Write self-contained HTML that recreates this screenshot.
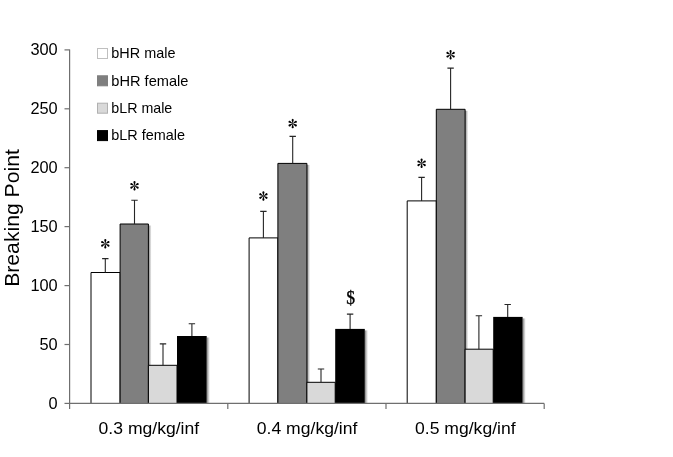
<!DOCTYPE html>
<html><head><meta charset="utf-8"><title>chart</title>
<style>
html,body{margin:0;padding:0;background:#fff;}
body{width:673px;height:457px;overflow:hidden;font-family:"Liberation Sans",sans-serif;}
svg{display:block;will-change:transform;}
text{font-family:"Liberation Sans",sans-serif;fill:#000;}
.ser{font-family:"Liberation Serif",serif;}
</style></head><body>
<svg width="673" height="457" viewBox="0 0 673 457">
<defs>
<linearGradient id="sh" x1="0" x2="1" y1="0" y2="0"><stop offset="0" stop-color="#7c7c7c"/><stop offset="0.5" stop-color="#c4c4c4"/><stop offset="1" stop-color="#ffffff"/></linearGradient>
</defs>
<rect width="673" height="457" fill="#fff"/>

<rect x="120.1" y="274.0" width="3.2" height="129.4" fill="url(#sh)"/>
<rect x="148.4" y="225.5" width="3.2" height="177.9" fill="url(#sh)"/>
<rect x="177.0" y="366.8" width="3.2" height="36.6" fill="url(#sh)"/>
<rect x="206.7" y="337.5" width="3.2" height="65.9" fill="url(#sh)"/>
<rect x="277.9" y="239.4" width="3.2" height="164.0" fill="url(#sh)"/>
<rect x="306.9" y="164.9" width="3.2" height="238.5" fill="url(#sh)"/>
<rect x="335.2" y="383.8" width="3.2" height="19.6" fill="url(#sh)"/>
<rect x="364.8" y="330.4" width="3.2" height="73.0" fill="url(#sh)"/>
<rect x="436.3" y="202.4" width="3.2" height="201.0" fill="url(#sh)"/>
<rect x="465.1" y="110.8" width="3.2" height="292.6" fill="url(#sh)"/>
<rect x="493.2" y="350.7" width="3.2" height="52.7" fill="url(#sh)"/>
<rect x="522.6" y="318.4" width="3.2" height="85.0" fill="url(#sh)"/>
<rect x="91.0" y="272.5" width="29.1" height="130.9" fill="#ffffff"/>
<path d="M91.0 403.4V272.5H120.1V403.4" fill="none" stroke="#000" stroke-width="1"/>
<path d="M105.3 272.5V258.6M102.1 258.6H108.5" stroke="#262626" stroke-width="1.1" fill="none"/>
<rect x="120.1" y="224.0" width="28.3" height="179.4" fill="#7f7f7f"/>
<path d="M120.1 403.4V224.0H148.4V403.4" fill="none" stroke="#000" stroke-width="1"/>
<path d="M134.5 224.0V200.2M131.3 200.2H137.7" stroke="#262626" stroke-width="1.1" fill="none"/>
<rect x="148.4" y="365.3" width="28.6" height="38.1" fill="#d9d9d9"/>
<path d="M148.4 403.4V365.3H177.0V403.4" fill="none" stroke="#000" stroke-width="1"/>
<path d="M163.0 365.3V343.9M159.8 343.9H166.2" stroke="#262626" stroke-width="1.1" fill="none"/>
<rect x="177.0" y="336.0" width="29.7" height="67.4" fill="#000000"/>
<path d="M191.9 336.0V323.8M188.7 323.8H195.1" stroke="#262626" stroke-width="1.1" fill="none"/>
<rect x="249.1" y="237.9" width="28.8" height="165.5" fill="#ffffff"/>
<path d="M249.1 403.4V237.9H277.9V403.4" fill="none" stroke="#000" stroke-width="1"/>
<path d="M263.4 237.9V211.4M260.2 211.4H266.6" stroke="#262626" stroke-width="1.1" fill="none"/>
<rect x="277.9" y="163.4" width="29.0" height="240.0" fill="#7f7f7f"/>
<path d="M277.9 403.4V163.4H306.9V403.4" fill="none" stroke="#000" stroke-width="1"/>
<path d="M292.7 163.4V136.4M289.5 136.4H295.9" stroke="#262626" stroke-width="1.1" fill="none"/>
<rect x="306.9" y="382.3" width="28.3" height="21.1" fill="#d9d9d9"/>
<path d="M306.9 403.4V382.3H335.2V403.4" fill="none" stroke="#000" stroke-width="1"/>
<path d="M321.0 382.3V369.0M317.8 369.0H324.2" stroke="#262626" stroke-width="1.1" fill="none"/>
<rect x="335.2" y="328.9" width="29.6" height="74.5" fill="#000000"/>
<path d="M350.1 328.9V314.1M346.9 314.1H353.3" stroke="#262626" stroke-width="1.1" fill="none"/>
<rect x="407.2" y="200.9" width="29.1" height="202.5" fill="#ffffff"/>
<path d="M407.2 403.4V200.9H436.3V403.4" fill="none" stroke="#000" stroke-width="1"/>
<path d="M421.6 200.9V177.4M418.4 177.4H424.8" stroke="#262626" stroke-width="1.1" fill="none"/>
<rect x="436.3" y="109.3" width="28.8" height="294.1" fill="#7f7f7f"/>
<path d="M436.3 403.4V109.3H465.1V403.4" fill="none" stroke="#000" stroke-width="1"/>
<path d="M450.6 109.3V68.1M447.4 68.1H453.8" stroke="#262626" stroke-width="1.1" fill="none"/>
<rect x="465.1" y="349.2" width="28.1" height="54.2" fill="#d9d9d9"/>
<path d="M465.1 403.4V349.2H493.2V403.4" fill="none" stroke="#000" stroke-width="1"/>
<path d="M478.9 349.2V315.7M475.7 315.7H482.1" stroke="#262626" stroke-width="1.1" fill="none"/>
<rect x="493.2" y="316.9" width="29.4" height="86.5" fill="#000000"/>
<path d="M507.7 316.9V304.5M504.5 304.5H510.9" stroke="#262626" stroke-width="1.1" fill="none"/>
<path d="M69.6 49.4V403.4H544.2" stroke="#6f6f6f" stroke-width="1.2" fill="none"/>
<path d="M64.5 403.4H69.6" stroke="#6f6f6f" stroke-width="1.2"/>
<text x="57.7" y="408.5" font-size="15.8" text-anchor="end" textLength="9.1" lengthAdjust="spacingAndGlyphs">0</text>
<path d="M64.5 344.5H69.6" stroke="#6f6f6f" stroke-width="1.2"/>
<text x="57.7" y="349.6" font-size="15.8" text-anchor="end" textLength="18.2" lengthAdjust="spacingAndGlyphs">50</text>
<path d="M64.5 285.6H69.6" stroke="#6f6f6f" stroke-width="1.2"/>
<text x="57.7" y="290.7" font-size="15.8" text-anchor="end" textLength="27.3" lengthAdjust="spacingAndGlyphs">100</text>
<path d="M64.5 226.6H69.6" stroke="#6f6f6f" stroke-width="1.2"/>
<text x="57.7" y="231.8" font-size="15.8" text-anchor="end" textLength="27.3" lengthAdjust="spacingAndGlyphs">150</text>
<path d="M64.5 167.7H69.6" stroke="#6f6f6f" stroke-width="1.2"/>
<text x="57.7" y="172.9" font-size="15.8" text-anchor="end" textLength="27.3" lengthAdjust="spacingAndGlyphs">200</text>
<path d="M64.5 108.8H69.6" stroke="#6f6f6f" stroke-width="1.2"/>
<text x="57.7" y="113.9" font-size="15.8" text-anchor="end" textLength="27.3" lengthAdjust="spacingAndGlyphs">250</text>
<path d="M64.5 49.9H69.6" stroke="#6f6f6f" stroke-width="1.2"/>
<text x="57.7" y="55.0" font-size="15.8" text-anchor="end" textLength="27.3" lengthAdjust="spacingAndGlyphs">300</text>
<path d="M69.6 403.4V409" stroke="#6f6f6f" stroke-width="1.2"/>
<path d="M227.79999999999998 403.4V409" stroke="#6f6f6f" stroke-width="1.2"/>
<path d="M386.0 403.4V409" stroke="#6f6f6f" stroke-width="1.2"/>
<path d="M544.1999999999999 403.4V409" stroke="#6f6f6f" stroke-width="1.2"/>
<text x="98.6" y="433.9" font-size="16.2" textLength="100.6" lengthAdjust="spacingAndGlyphs">0.3 mg/kg/inf</text>
<text x="256.8" y="433.9" font-size="16.2" textLength="100.6" lengthAdjust="spacingAndGlyphs">0.4 mg/kg/inf</text>
<text x="415.0" y="433.9" font-size="16.2" textLength="100.6" lengthAdjust="spacingAndGlyphs">0.5 mg/kg/inf</text>
<text transform="translate(19.3 286.8) rotate(-90)" font-size="20.4" textLength="137.6" lengthAdjust="spacingAndGlyphs">Breaking Point</text>
<rect x="97.5" y="48.5" width="10" height="10" fill="#ffffff" stroke="#bfbfbf" stroke-width="1"/>
<text x="111.3" y="58.3" font-size="14.4" textLength="64.2" lengthAdjust="spacingAndGlyphs">bHR male</text>
<rect x="97.5" y="75.8" width="10" height="10" fill="#7f7f7f" stroke="#7f7f7f" stroke-width="1"/>
<text x="111.3" y="85.6" font-size="14.4" textLength="77.2" lengthAdjust="spacingAndGlyphs">bHR female</text>
<rect x="97.5" y="103.2" width="10" height="10" fill="#d9d9d9" stroke="#b0b0b0" stroke-width="1"/>
<text x="111.3" y="113.0" font-size="14.4" textLength="61.0" lengthAdjust="spacingAndGlyphs">bLR male</text>
<rect x="97.5" y="130.6" width="10" height="10" fill="#000" stroke="#000" stroke-width="1"/>
<text x="111.3" y="140.4" font-size="14.4" textLength="73.8" lengthAdjust="spacingAndGlyphs">bLR female</text>
<g transform="translate(105.3 243.8)" fill="#000"><path d="M0 0.3L-0.92 -3.05A1.08 1.08 0 1 1 0.92 -3.05Z" transform="rotate(0)"/><path d="M0 0.3L-0.92 -3.05A1.08 1.08 0 1 1 0.92 -3.05Z" transform="rotate(60)"/><path d="M0 0.3L-0.92 -3.05A1.08 1.08 0 1 1 0.92 -3.05Z" transform="rotate(120)"/><path d="M0 0.3L-0.92 -3.05A1.08 1.08 0 1 1 0.92 -3.05Z" transform="rotate(180)"/><path d="M0 0.3L-0.92 -3.05A1.08 1.08 0 1 1 0.92 -3.05Z" transform="rotate(240)"/><path d="M0 0.3L-0.92 -3.05A1.08 1.08 0 1 1 0.92 -3.05Z" transform="rotate(300)"/></g>
<g transform="translate(134.5 185.8)" fill="#000"><path d="M0 0.3L-0.92 -3.05A1.08 1.08 0 1 1 0.92 -3.05Z" transform="rotate(0)"/><path d="M0 0.3L-0.92 -3.05A1.08 1.08 0 1 1 0.92 -3.05Z" transform="rotate(60)"/><path d="M0 0.3L-0.92 -3.05A1.08 1.08 0 1 1 0.92 -3.05Z" transform="rotate(120)"/><path d="M0 0.3L-0.92 -3.05A1.08 1.08 0 1 1 0.92 -3.05Z" transform="rotate(180)"/><path d="M0 0.3L-0.92 -3.05A1.08 1.08 0 1 1 0.92 -3.05Z" transform="rotate(240)"/><path d="M0 0.3L-0.92 -3.05A1.08 1.08 0 1 1 0.92 -3.05Z" transform="rotate(300)"/></g>
<g transform="translate(263.4 196.0)" fill="#000"><path d="M0 0.3L-0.92 -3.05A1.08 1.08 0 1 1 0.92 -3.05Z" transform="rotate(0)"/><path d="M0 0.3L-0.92 -3.05A1.08 1.08 0 1 1 0.92 -3.05Z" transform="rotate(60)"/><path d="M0 0.3L-0.92 -3.05A1.08 1.08 0 1 1 0.92 -3.05Z" transform="rotate(120)"/><path d="M0 0.3L-0.92 -3.05A1.08 1.08 0 1 1 0.92 -3.05Z" transform="rotate(180)"/><path d="M0 0.3L-0.92 -3.05A1.08 1.08 0 1 1 0.92 -3.05Z" transform="rotate(240)"/><path d="M0 0.3L-0.92 -3.05A1.08 1.08 0 1 1 0.92 -3.05Z" transform="rotate(300)"/></g>
<g transform="translate(292.7 123.6)" fill="#000"><path d="M0 0.3L-0.92 -3.05A1.08 1.08 0 1 1 0.92 -3.05Z" transform="rotate(0)"/><path d="M0 0.3L-0.92 -3.05A1.08 1.08 0 1 1 0.92 -3.05Z" transform="rotate(60)"/><path d="M0 0.3L-0.92 -3.05A1.08 1.08 0 1 1 0.92 -3.05Z" transform="rotate(120)"/><path d="M0 0.3L-0.92 -3.05A1.08 1.08 0 1 1 0.92 -3.05Z" transform="rotate(180)"/><path d="M0 0.3L-0.92 -3.05A1.08 1.08 0 1 1 0.92 -3.05Z" transform="rotate(240)"/><path d="M0 0.3L-0.92 -3.05A1.08 1.08 0 1 1 0.92 -3.05Z" transform="rotate(300)"/></g>
<g transform="translate(421.6 163.3)" fill="#000"><path d="M0 0.3L-0.92 -3.05A1.08 1.08 0 1 1 0.92 -3.05Z" transform="rotate(0)"/><path d="M0 0.3L-0.92 -3.05A1.08 1.08 0 1 1 0.92 -3.05Z" transform="rotate(60)"/><path d="M0 0.3L-0.92 -3.05A1.08 1.08 0 1 1 0.92 -3.05Z" transform="rotate(120)"/><path d="M0 0.3L-0.92 -3.05A1.08 1.08 0 1 1 0.92 -3.05Z" transform="rotate(180)"/><path d="M0 0.3L-0.92 -3.05A1.08 1.08 0 1 1 0.92 -3.05Z" transform="rotate(240)"/><path d="M0 0.3L-0.92 -3.05A1.08 1.08 0 1 1 0.92 -3.05Z" transform="rotate(300)"/></g>
<g transform="translate(450.6 54.7)" fill="#000"><path d="M0 0.3L-0.92 -3.05A1.08 1.08 0 1 1 0.92 -3.05Z" transform="rotate(0)"/><path d="M0 0.3L-0.92 -3.05A1.08 1.08 0 1 1 0.92 -3.05Z" transform="rotate(60)"/><path d="M0 0.3L-0.92 -3.05A1.08 1.08 0 1 1 0.92 -3.05Z" transform="rotate(120)"/><path d="M0 0.3L-0.92 -3.05A1.08 1.08 0 1 1 0.92 -3.05Z" transform="rotate(180)"/><path d="M0 0.3L-0.92 -3.05A1.08 1.08 0 1 1 0.92 -3.05Z" transform="rotate(240)"/><path d="M0 0.3L-0.92 -3.05A1.08 1.08 0 1 1 0.92 -3.05Z" transform="rotate(300)"/></g>
<text class="ser" transform="translate(350.75 303.5) scale(0.9 1)" font-size="19.6" stroke="#000" stroke-width="0.35" text-anchor="middle">$</text>
</svg></body></html>
